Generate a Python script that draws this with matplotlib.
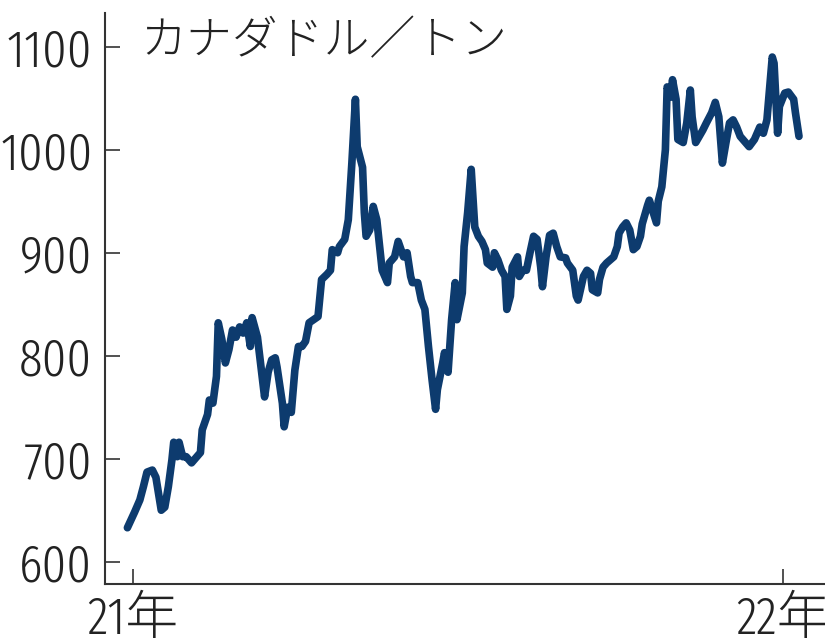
import pandas as pd
import matplotlib.pyplot as plt

# days from 2021-01-01 and price (CAD / ton)
days = [-3, 1, 4, 6, 8, 11, 13, 16, 18, 20, 22, 23, 25, 26, 28, 30, 33, 36, 38, 39,
        42, 43, 45, 47, 48, 50, 52, 54, 56, 58, 60, 62, 64, 66, 67, 70, 72, 74, 76, 78,
        80, 81, 84, 85, 87, 89, 91, 93, 95, 97, 99, 104, 106, 109, 111, 112, 115, 116, 119, 121,
        123, 125, 126, 129, 130, 131, 133, 135, 137, 139, 140, 143, 144, 147, 149, 152, 154, 156, 157, 160,
        162, 164, 166, 168, 170, 171, 174, 175, 177, 179, 181, 182, 185, 186, 188, 190, 192, 194, 196, 198,
        199, 202, 203, 205, 207, 209, 210, 212, 213, 216, 217, 219, 221, 223, 225, 227, 229, 230, 232, 234,
        236, 238, 240, 243, 244, 247, 249, 250, 253, 255, 257, 258, 261, 262, 264, 266, 268, 270, 272, 273,
        275, 277, 279, 281, 283, 285, 286, 289, 290, 292, 294, 295, 297, 299, 300, 302, 303, 305, 306, 309,
        311, 313, 314, 316, 318, 320, 322, 325, 327, 329, 331, 333, 335, 337, 339, 341, 344, 346, 349, 352,
        354, 356, 357, 359, 360, 362, 363, 366, 368, 371, 372, 374]
price = [633, 648, 660, 673, 687, 689, 682, 650, 653, 673, 699, 716, 702, 716, 702, 702, 696, 702, 706, 728,
         743, 757, 754, 780, 832, 816, 793, 806, 825, 818, 828, 822, 832, 809, 837, 818, 789, 760, 784, 796,
         798, 789, 754, 731, 750, 745, 786, 809, 809, 814, 832, 838, 874, 879, 883, 903, 900, 906, 913, 932,
         987, 1049, 1003, 983, 939, 916, 922, 945, 932, 900, 883, 871, 890, 896, 911, 896, 900, 877, 871, 871,
         854, 845, 809, 777, 748, 767, 793, 803, 784, 835, 871, 835, 861, 906, 939, 981, 925, 916, 911, 903,
         890, 886, 900, 893, 883, 877, 845, 858, 886, 896, 877, 883, 883, 900, 916, 913, 886, 867, 896, 917,
         919, 906, 896, 895, 890, 883, 858, 854, 877, 883, 880, 864, 861, 874, 886, 890, 893, 896, 906, 919,
         925, 929, 922, 903, 906, 916, 928, 946, 951, 940, 929, 950, 964, 1000, 1061, 1051, 1068, 1049, 1010, 1007,
         1026, 1058, 1032, 1007, 1013, 1019, 1026, 1036, 1046, 1032, 987, 1007, 1026, 1029, 1022, 1013, 1007, 1003, 1010, 1022,
         1016, 1029, 1049, 1090, 1084, 1016, 1042, 1055, 1056, 1049, 1036, 1013]

tick_dates = ["2021-01-01", "2022-01-01"]
tick_labels = ["21年", "22年"]
yticks = [600, 700, 800, 900, 1000, 1100]

start = pd.Timestamp("2021-01-01")
dates = start + pd.to_timedelta(days, unit="D")

num_font = ["Fira Sans Extra Condensed", "Noto Sans CJK JP", "DejaVu Sans"]
jp_font = ["Noto Sans CJK JP", "DejaVu Sans"]

fig = plt.figure(figsize=(8.25, 6.38), dpi=100)
ax = fig.add_axes([0.127, 0.085, 0.873, 0.895])

ax.plot(dates, price, color="#0d3b6e", linewidth=5.5, solid_joinstyle="round", solid_capstyle="round")

ax.set_xlim(start - pd.Timedelta(days=15.7), start + pd.Timedelta(days=388.6))
ax.set_ylim(578.6, 1133)

ax.set_xticks(pd.to_datetime(tick_dates))
ax.set_xticklabels(tick_labels)
ax.set_yticks(yticks)
ax.set_yticklabels([str(v) for v in yticks])

for lab in ax.get_xticklabels() + ax.get_yticklabels():
    lab.set_family(num_font)
    lab.set_fontweight(300)
    lab.set_fontsize(38)
    lab.set_color("#222222")

ax.tick_params(axis="both", direction="in", length=11, width=1.2, color="#333333")
ax.tick_params(axis="y", pad=9)
ax.tick_params(axis="x", pad=8)

for side in ["top", "right"]:
    ax.spines[side].set_visible(False)
for side in ["left", "bottom"]:
    ax.spines[side].set_linewidth(1.5)
    ax.spines[side].set_color("#333333")

ax.text(0.049, 0.949, "カナダドル／トン", transform=ax.transAxes, ha="left", va="center",
        fontsize=33, family=jp_font, fontweight="light", color="#222222")

fig.savefig("out.png", dpi=100)
